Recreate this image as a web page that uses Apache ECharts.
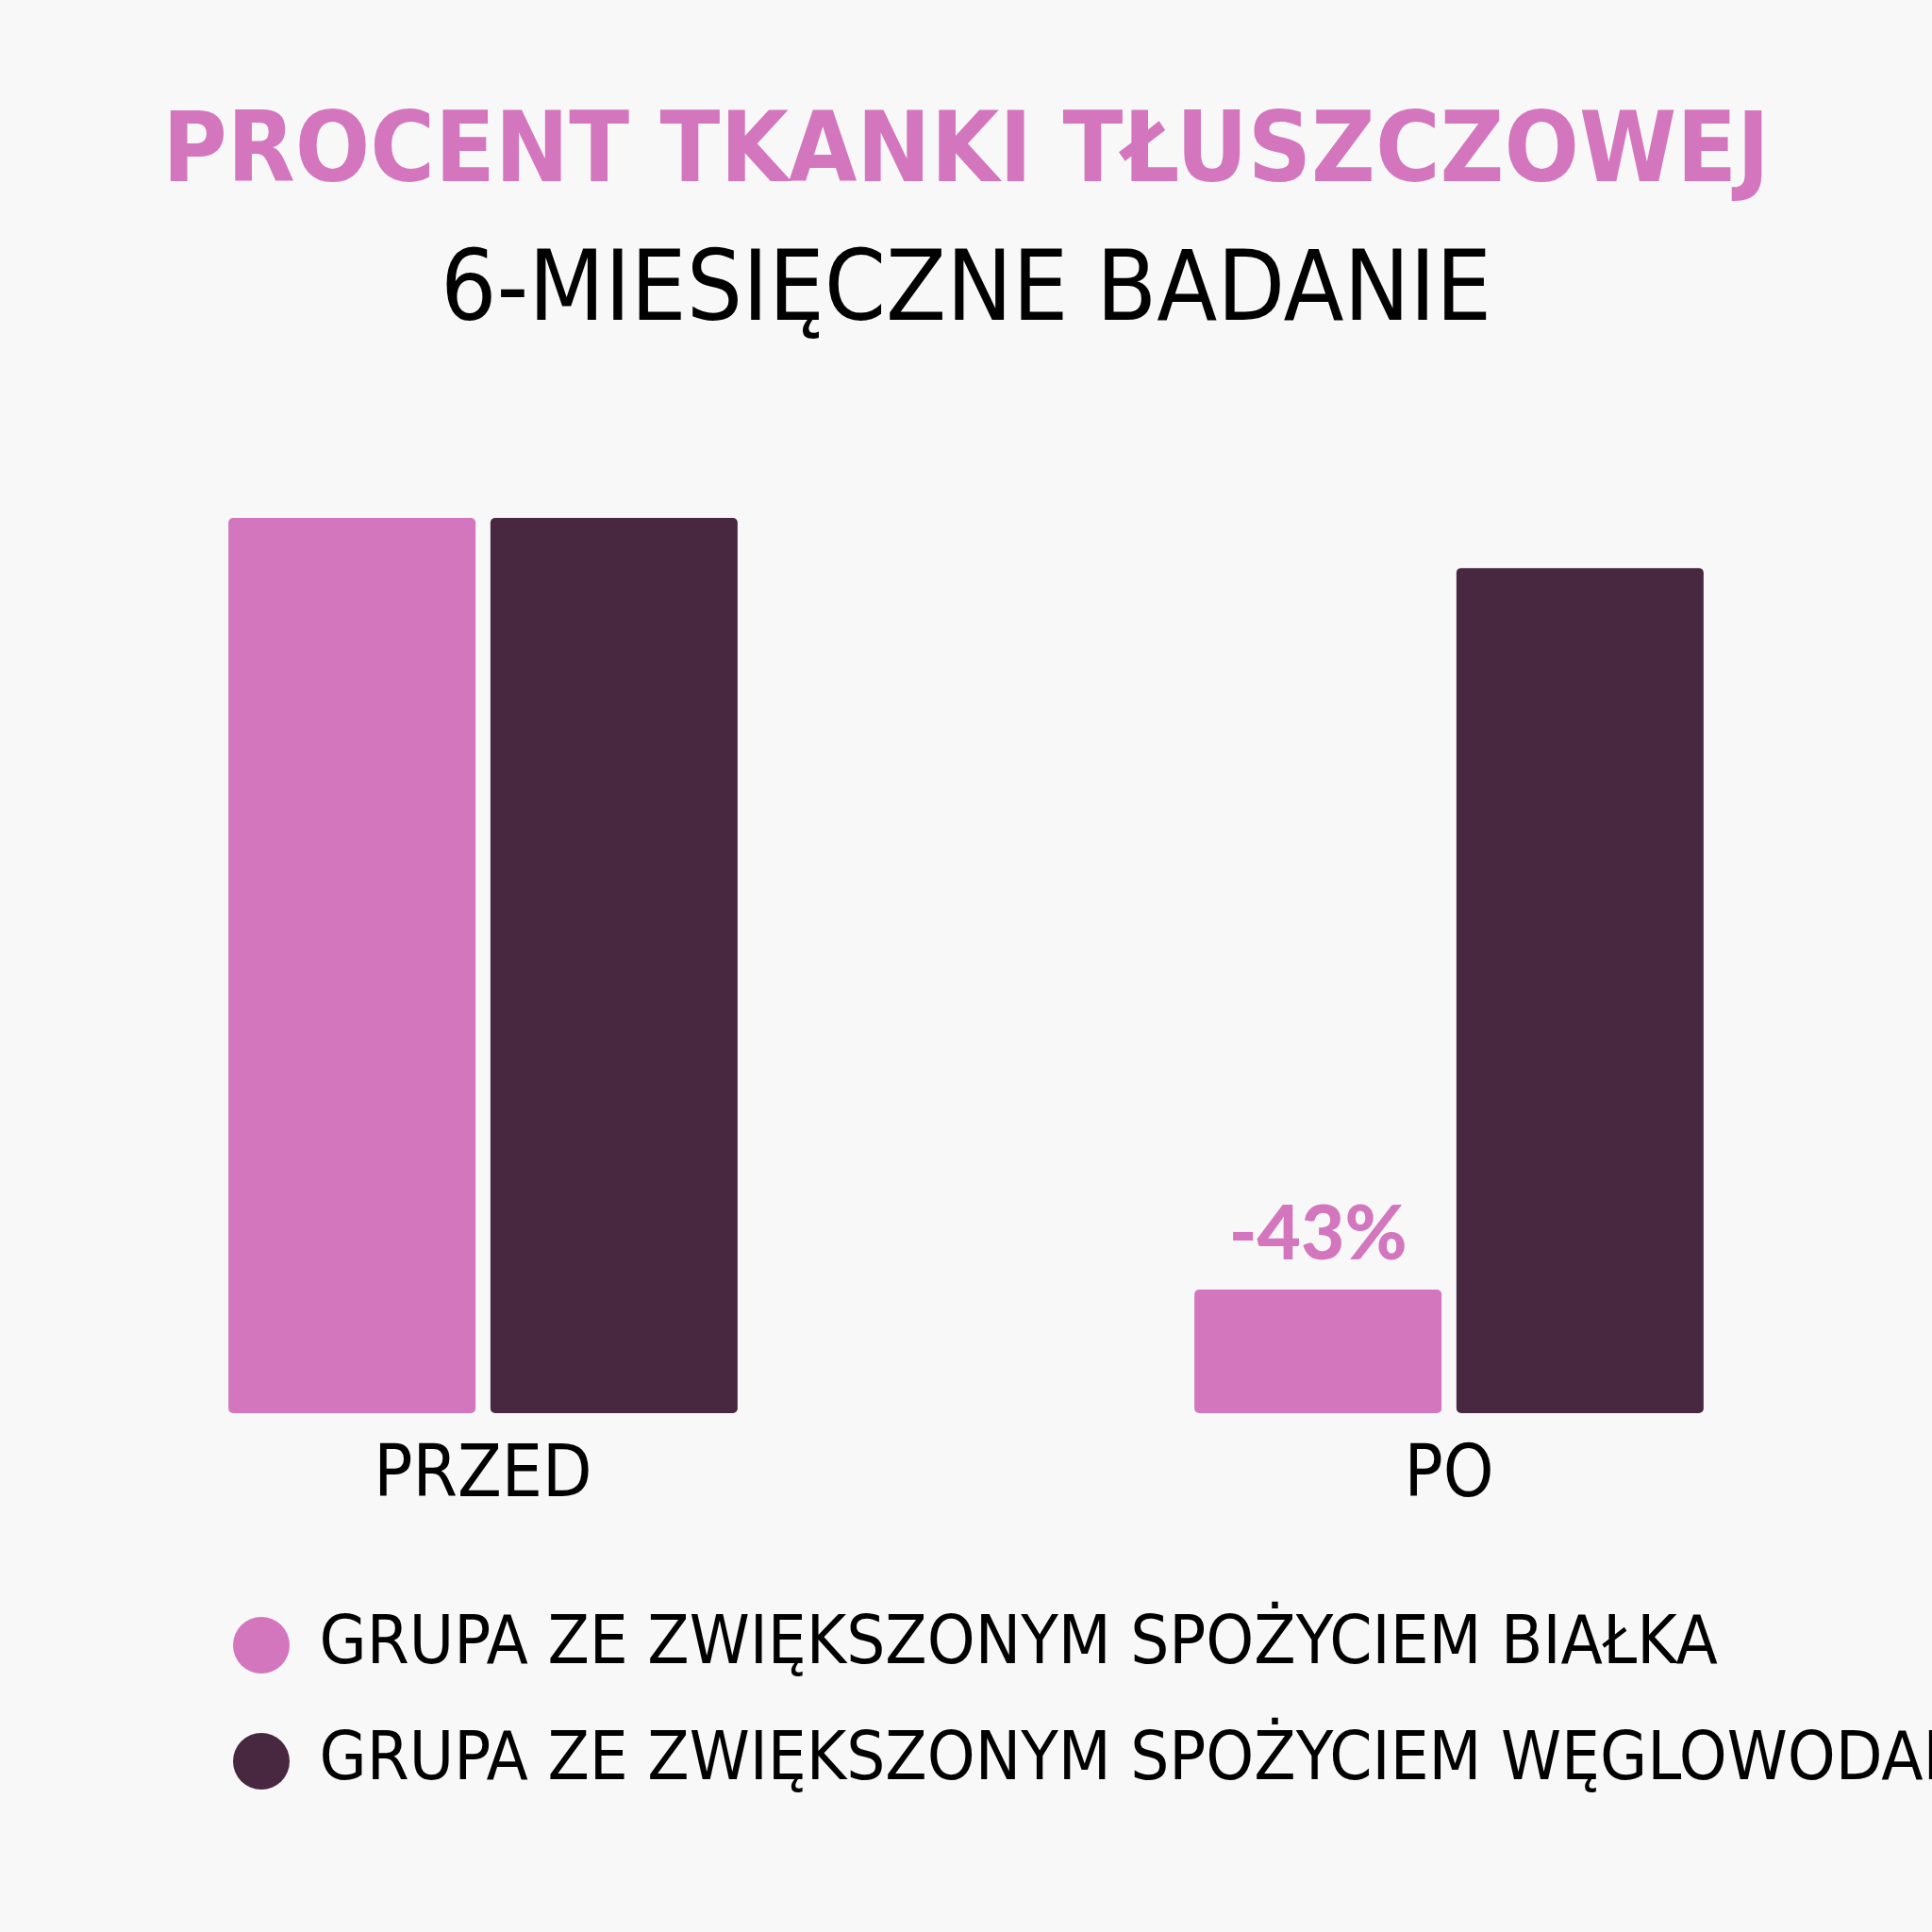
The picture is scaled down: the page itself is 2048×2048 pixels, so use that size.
<!DOCTYPE html>
<html><head><meta charset="utf-8">
<script src="https://cdn.jsdelivr.net/npm/echarts@6/dist/echarts.min.js"></script>
<style>html,body{margin:0;background:#f8f8f8}#c{width:2048px;height:2048px}</style>
</head><body><div id="c"></div>
<script>
const categories = ['PRZED', 'PO'];
const proteinGroup = [100, 13.8];
const carbGroup = [100, 94.4];
const seriesNames = ['GRUPA ZE ZWIĘKSZONYM SPOŻYCIEM BIAŁKA', 'GRUPA ZE ZWIĘKSZONYM SPOŻYCIEM WĘGLOWODANÓW'];
const changeLabels = ['', '-43%'];
const font = '"Liberation Sans Narrow", "DejaVu Sans Condensed", sans-serif';
const chart = echarts.init(document.getElementById('c'));
chart.setOption({
  backgroundColor: '#f8f8f8',
  title: [
    {text: 'PROCENT TKANKI TŁUSZCZOWEJ', left: 'center', top: 108,
     textStyle: {fontFamily: font, fontSize: 104, fontWeight: 'bold', color: '#d376bd'}},
    {text: '6-MIESIĘCZNE BADANIE', left: 'center', top: 255,
     textStyle: {fontFamily: font, fontSize: 104, fontWeight: 'normal', color: '#000'}}
  ],
  grid: {left: 0, right: 0, top: 549, bottom: 550},
  xAxis: {type: 'category', data: categories, axisLine: {show: false}, axisTick: {show: false},
    axisLabel: {fontFamily: font, fontSize: 76, color: '#000', margin: 30}},
  yAxis: {type: 'value', min: 0, max: 100, show: false, splitLine: {show: false}},
  legend: {orient: 'vertical', left: 242, top: 1703, itemWidth: 73, itemHeight: 60, itemGap: 51,
    icon: 'circle', textStyle: {fontFamily: font, fontSize: 72, color: '#000', padding: [0, 0, 0, 20]}},
  series: [
    {name: seriesNames[0], type: 'bar', data: proteinGroup, barWidth: 262, barGap: '6%',
     itemStyle: {color: '#d376bd', borderRadius: 5},
     label: {show: true, position: 'top', distance: 18, formatter: p => changeLabels[p.dataIndex],
       fontFamily: 'Lato', fontWeight: 900, fontSize: 80, color: '#d376bd'}},
    {name: seriesNames[1], type: 'bar', data: carbGroup, barWidth: 262,
     itemStyle: {color: '#472840', borderRadius: 5}}
  ]
});
</script></body></html>
